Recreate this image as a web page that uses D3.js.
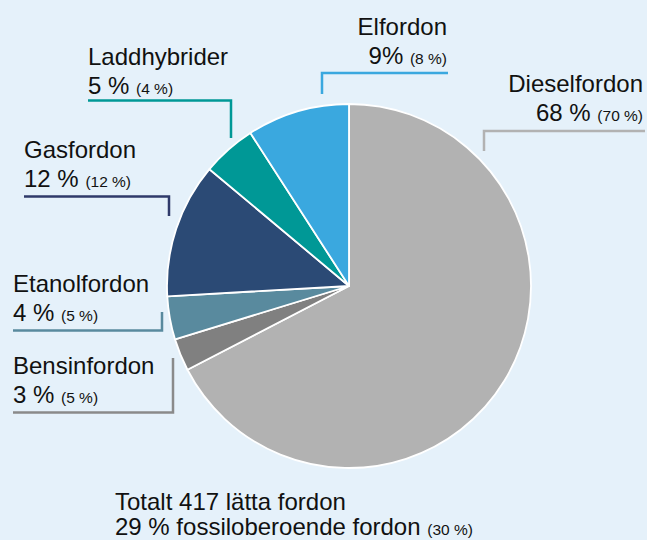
<!DOCTYPE html>
<html><head><meta charset="utf-8">
<script src="https://cdn.jsdelivr.net/npm/d3@7"></script>
<style>
html,body{margin:0;padding:0;background:#e5f1fa;}
svg{display:block;font-family:"Liberation Sans",Arial,sans-serif;}
</style></head>
<body>
<svg id="c" width="647" height="540"></svg>
<script>
// Data
const categories = ["Dieselfordon","Bensinfordon","Etanolfordon","Gasfordon","Laddhybrider","Elfordon"];
const counts = [281, 12, 16, 50, 20, 38];
const shareLabels = ["68 %","3 %","4 %","12 %","5 %","9%"];
const prevLabels = ["(70 %)","(5 %)","(5 %)","(12 %)","(4 %)","(8 %)"];
const colors = ["#b2b2b2","#808080","#598a9e","#2b4a75","#009896","#3aa8df"];
const lineColors = ["#b2b2b2","#8a8a8a","#598a9e","#2f3a6a","#009896","#3aa8df"];
const totalLines = ["Totalt 417 lätta fordon","29 % fossiloberoende fordon"];
const totalPrev = "(30 %)";

// Layout
const W = 647, H = 540, cx = 349, cy = 286, R = 182;
const FS = 24, FSs = 15.5;
const layout = [
  {anchor:"end", x:643, y:92, line:[[645,131],[484,131],[484,151]]},
  {anchor:"start", x:13, y:374, line:[[13,412.5],[173,412.5],[173,358]]},
  {anchor:"start", x:13, y:292, line:[[13,330.5],[162,330.5],[162,312]]},
  {anchor:"start", x:24, y:158, line:[[24,196.5],[169,196.5],[169,216]]},
  {anchor:"start", x:88, y:65, line:[[88,100.5],[231,100.5],[231,138]]},
  {anchor:"end", x:447, y:34.5, line:[[448,73],[322,73],[322,94]]}
];

const svg = d3.select("#c");
svg.append("rect").attr("width",W).attr("height",H).attr("fill","#e5f1fa");

const pie = d3.pie().sort(null).value(d=>d)(counts);
const arc = d3.arc().innerRadius(0).outerRadius(R);
const g = svg.append("g").attr("transform",`translate(${cx},${cy})`);
g.selectAll("path").data(pie).join("path")
  .attr("d",arc).attr("fill",(d,i)=>colors[i])
  .attr("stroke","#ffffff").attr("stroke-width",1.8).attr("stroke-linejoin","round");

const line = d3.line();
categories.forEach((c,i)=>{
  const L = layout[i];
  svg.append("path").attr("d",line(L.line)).attr("fill","none")
    .attr("stroke",lineColors[i]).attr("stroke-width",2.5);
  svg.append("text").attr("x",L.x).attr("y",L.y).attr("text-anchor",L.anchor)
    .attr("font-size",FS).attr("fill","#111").text(c);
  const t = svg.append("text").attr("x",L.x).attr("y",L.y+29).attr("text-anchor",L.anchor)
    .attr("fill","#111");
  t.append("tspan").attr("font-size",FS).text(shareLabels[i]+" ");
  t.append("tspan").attr("font-size",FSs).text(prevLabels[i]);
});

svg.append("text").attr("x",115).attr("y",510).attr("font-size",FS).attr("fill","#111").text(totalLines[0]);
const t2 = svg.append("text").attr("x",115).attr("y",535).attr("fill","#111");
t2.append("tspan").attr("font-size",FS).text(totalLines[1]+" ");
t2.append("tspan").attr("font-size",FSs).text(totalPrev);
</script>
</body></html>
